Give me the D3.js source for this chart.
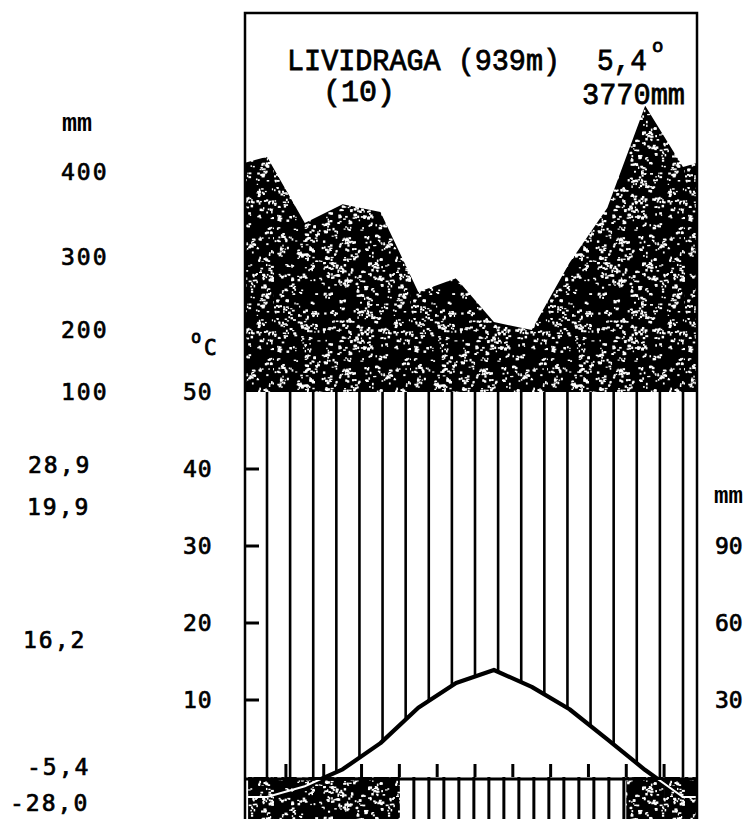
<!DOCTYPE html>
<html>
<head>
<meta charset="utf-8">
<script src="https://cdn.jsdelivr.net/npm/d3@7"></script>
<style>
  html, body { margin: 0; padding: 0; background: #fff; }
  svg { display: block; }
</style>
</head>
<body>
<svg id="chart" width="754" height="819"></svg>
<script>
// Climate diagram (Walter–Lieth style) for the Lividraga station.

// ---- data -------------------------------------------------------------
const monthNames = ["jan", "feb", "mar", "apr", "maj", "jun", "jul", "avg", "sep", "okt", "nov", "dec"];
const precipitation = [418, 340, 362, 353, 252, 271, 211, 200, 292, 358, 478, 406];   // mm
const temperature   = [-2.6, -1.2, 1.0, 4.4, 9.0, 12.2, 13.9, 11.7, 8.8, 4.9, 0.9, -2.6]; // °C
const frostMonths    = ["jan", "feb", "mar", "apr", "nov", "dec"];   // mean daily minimum below 0
const possibleFrost  = ["maj", "jun", "jul", "avg", "sep", "okt"];   // absolute minimum below 0
const tempTicks      = [50, 40, 30, 20, 10];
const precipTicks    = [400, 300, 200, 100];
const rightMmTicks   = [90, 60, 30];
const sideValues     = ["28,9", "19,9", "16,2", "-5,4", "-28,0"];
const stationName    = "LIVIDRAGA (939m)";
const stationYears   = "(10)";
const meanTemp       = "5,4";
const annualPrecip   = "3770mm";

// ---- layout -----------------------------------------------------------
const svg = d3.select("#chart");
const frame = { left: 245, right: 697, top: 13, bottom: 840 };
const zeroY = 777;

const x = d3.scalePoint().domain(monthNames).range([267, 683]);
const step = x.step();
const yT = d3.scaleLinear().domain([0, 50]).range([zeroY, 392]);
// the precipitation scale above 100 mm is drawn compressed, as on the printed axis
const yP = d3.scaleLinear().domain([100, 200, 300, 400]).range([yT(50), 330, 257, 172]);
const yMm = d3.scaleLinear().domain([0, 150]).range([zeroY, 392]);

const mono = "'DejaVu Sans Mono', 'Liberation Mono', monospace";
const typewriter = "'Liberation Mono', 'Courier New', monospace";

// ---- stipple texture (deterministic) -----------------------------------
function lcg(seed) {
  let s = seed >>> 0;
  return () => (s = (Math.imul(s, 1664525) + 1013904223) >>> 0) / 4294967296;
}
const defs = svg.append("defs");
const PW = 137, PH = 131;
const pat = defs.append("pattern")
  .attr("id", "stipple")
  .attr("patternUnits", "userSpaceOnUse")
  .attr("width", PW).attr("height", PH);
pat.append("rect").attr("width", PW).attr("height", PH).attr("fill", "#000");
const rnd = lcg(20240611);
for (let i = 0; i < 430; i++) {
  let cx = rnd() * PW, cy = rnd() * PH;
  const len = 1 + Math.floor(rnd() * 4);
  for (let k = 0; k < len; k++) {
    pat.append("rect")
      .attr("x", cx).attr("y", cy)
      .attr("width", 1.2 + rnd() * 1.8).attr("height", 1.1 + rnd() * 1.4)
      .attr("fill", "#fff");
    cx += (rnd() - 0.5) * 5;
    cy += (rnd() - 0.35) * 4;
  }
}

defs.append("clipPath").attr("id", "clipFrame")
  .append("rect")
  .attr("x", frame.left).attr("y", frame.top)
  .attr("width", frame.right - frame.left).attr("height", frame.bottom - frame.top);
defs.append("clipPath").attr("id", "clipAbove")
  .append("rect")
  .attr("x", frame.left).attr("y", frame.top)
  .attr("width", frame.right - frame.left).attr("height", zeroY + 2 - frame.top);
defs.append("clipPath").attr("id", "clipBelow")
  .append("rect")
  .attr("x", frame.left).attr("y", zeroY + 3)
  .attr("width", frame.right - frame.left).attr("height", frame.bottom - zeroY);

// Continue a monthly series to the frame edges, wrapping December -> January.
function wrapSeries(values) {
  const n = values.length;
  const pts = values.map((v, i) => ({ x: x(monthNames[i]), v }));
  const tL = (frame.left - (x(monthNames[0]) - step)) / step;
  const tR = (frame.right - x(monthNames[n - 1])) / step;
  const left  = { x: frame.left,  v: values[n - 1] + (values[0] - values[n - 1]) * tL };
  const right = { x: frame.right, v: values[n - 1] + (values[0] - values[n - 1]) * tR };
  return [left, ...pts, right];
}
function valueAt(series, px) {
  for (let i = 0; i < series.length - 1; i++) {
    const a = series[i], b = series[i + 1];
    if (px >= a.x && px <= b.x) return a.v + (b.v - a.v) * (px - a.x) / (b.x - a.x);
  }
  return series[series.length - 1].v;
}

const precipSeries = wrapSeries(precipitation);
const tempSeries = wrapSeries(temperature);

const plot = svg.append("g").attr("clip-path", "url(#clipFrame)");

// ---- precipitation above 100 mm (stippled black) -----------------------
plot.append("path")
  .datum(precipSeries)
  .attr("d", d3.area().x(d => d.x).y0(yP(100)).y1(d => yP(d.v)))
  .attr("fill", "url(#stipple)");

// ---- humid period: vertical hatching between 100 mm line and temperature ----
const [hx0, hx1] = x.range();
const hatchXs = d3.range(19).map(i => hx0 + i * (hx1 - hx0) / 18);
plot.selectAll("line.hatch")
  .data(hatchXs)
  .join("line")
  .attr("class", "hatch")
  .attr("x1", d => d).attr("x2", d => d)
  .attr("y1", yT(50))
  .attr("y2", d => yT(Math.max(0, valueAt(tempSeries, d))))
  .attr("stroke", "#000").attr("stroke-width", 2.6);

// ---- frost band below 0 °C ---------------------------------------------
const monthSpan = m => [Math.max(frame.left, x(m) - step / 2), Math.min(frame.right, x(m) + step / 2)];
plot.selectAll("rect.frost")
  .data(frostMonths)
  .join("rect")
  .attr("class", "frost")
  .attr("x", d => monthSpan(d)[0])
  .attr("width", d => monthSpan(d)[1] - monthSpan(d)[0] + 0.5)
  .attr("y", zeroY).attr("height", frame.bottom - zeroY)
  .attr("fill", "url(#stipple)");

const pfx0 = d3.min(possibleFrost, m => monthSpan(m)[0]);
const pfx1 = d3.max(possibleFrost, m => monthSpan(m)[1]);
plot.selectAll("line.pfrost")
  .data(d3.range(pfx0 + 14.5, pfx1, 15))
  .join("line")
  .attr("class", "pfrost")
  .attr("x1", d => d).attr("x2", d => d)
  .attr("y1", zeroY).attr("y2", frame.bottom)
  .attr("stroke", "#000").attr("stroke-width", 3);

// 0 °C line and month boundary ticks
plot.append("line")
  .attr("x1", frame.left).attr("x2", frame.right)
  .attr("y1", zeroY + 2).attr("y2", zeroY + 2)
  .attr("stroke", "#000").attr("stroke-width", 3);
plot.selectAll("line.mtick")
  .data(monthNames.slice(0, 11))
  .join("line")
  .attr("class", "mtick")
  .attr("x1", d => x(d) + step / 2).attr("x2", d => x(d) + step / 2)
  .attr("y1", zeroY).attr("y2", zeroY - 13)
  .attr("stroke", "#000").attr("stroke-width", 3);

// ---- temperature curve --------------------------------------------------
const tLine = d3.line().x(d => d.x).y(d => yT(d.v));
plot.append("path")
  .datum(tempSeries)
  .attr("d", tLine)
  .attr("clip-path", "url(#clipAbove)")
  .attr("fill", "none").attr("stroke", "#000")
  .attr("stroke-width", 4.2).attr("stroke-linejoin", "round");
plot.append("path")
  .datum(tempSeries)
  .attr("d", tLine)
  .attr("clip-path", "url(#clipBelow)")
  .attr("fill", "none").attr("stroke", "#fff")
  .attr("stroke-width", 2);

// ---- frame and temperature ticks -------------------------------------
svg.append("rect")
  .attr("x", frame.left).attr("y", frame.top)
  .attr("width", frame.right - frame.left).attr("height", frame.bottom - frame.top)
  .attr("fill", "none").attr("stroke", "#000").attr("stroke-width", 2.5);
svg.selectAll("line.ttick")
  .data(tempTicks.filter(t => t < 50))
  .join("line")
  .attr("class", "ttick")
  .attr("x1", frame.left).attr("x2", frame.left + 14)
  .attr("y1", d => yT(d)).attr("y2", d => yT(d))
  .attr("stroke", "#000").attr("stroke-width", 3);

// ---- text ---------------------------------------------------------------
const txt = (s, px, py, size, family, extra) => {
  const t = svg.append("text")
    .attr("x", px).attr("y", py)
    .attr("font-family", family).attr("font-size", size)
    .attr("fill", "#000").text(s);
  if (extra) extra(t);
  return t;
};
const inked = t => t.attr("stroke", "#000").attr("stroke-width", 0.8);

// Header
txt(stationName, 287, 70, 30, typewriter, t => inked(t).attr("textLength", 273).attr("lengthAdjust", "spacingAndGlyphs"));
txt(stationYears, 323, 101, 30, typewriter, inked);
txt(meanTemp, 597, 70, 30, typewriter, t => inked(t).attr("textLength", 50).attr("lengthAdjust", "spacingAndGlyphs"));
txt("o", 652, 52, 19, typewriter, inked);
txt(annualPrecip, 582, 104, 30, typewriter, t => inked(t).attr("textLength", 103).attr("lengthAdjust", "spacingAndGlyphs"));

// Left precipitation labels
txt("mm", 62, 131, 25, typewriter, t => t.attr("font-weight", "bold"));
svg.selectAll("text.pl")
  .data(precipTicks)
  .join("text")
  .attr("class", "pl")
  .attr("x", 61).attr("y", d => yP(d)).attr("dy", "0.36em")
  .attr("font-family", mono).attr("font-size", 23).attr("letter-spacing", 2)
  .attr("stroke", "#000").attr("stroke-width", 0.7)
  .text(d => d);

// Temperature labels
txt("o", 191, 343, 17, mono, inked);
txt("C", 204, 355, 21, mono, inked);
svg.selectAll("text.tl")
  .data(tempTicks)
  .join("text")
  .attr("class", "tl")
  .attr("x", 183).attr("y", d => yT(d)).attr("dy", "0.36em")
  .attr("font-family", mono).attr("font-size", 23).attr("letter-spacing", 1)
  .attr("stroke", "#000").attr("stroke-width", 0.7)
  .text(d => d);

// Extreme temperature figures at the left
const sideLayout = [{ x: 28, y: 465 }, { x: 27, y: 507 }, { x: 23, y: 640 }, { x: 27, y: 767 }, { x: 10, y: 803 }];
svg.selectAll("text.side")
  .data(sideValues)
  .join("text")
  .attr("class", "side")
  .attr("x", (d, i) => sideLayout[i].x).attr("y", (d, i) => sideLayout[i].y).attr("dy", "0.36em")
  .attr("font-family", mono).attr("font-size", 23).attr("letter-spacing", 2)
  .attr("stroke", "#000").attr("stroke-width", 0.7)
  .text(d => d);

// Right-hand mm scale
txt("mm", 714, 503, 24, typewriter, t => t.attr("font-weight", "bold"));
svg.selectAll("text.rl")
  .data(rightMmTicks)
  .join("text")
  .attr("class", "rl")
  .attr("x", 715).attr("y", d => yMm(d)).attr("dy", "0.36em")
  .attr("font-family", mono).attr("font-size", 23)
  .attr("stroke", "#000").attr("stroke-width", 0.7)
  .text(d => d);
</script>
</body>
</html>
